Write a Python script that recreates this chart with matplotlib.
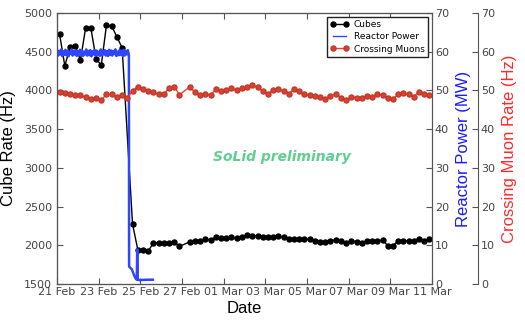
import numpy as np
import matplotlib
matplotlib.use("Agg")
import matplotlib.pyplot as plt
import matplotlib.dates as mdates
from datetime import datetime

# 6-hourly samples starting 21 Feb (slot i -> 0.125 + 0.25*i days)
cube_rate = [4725, 4316, 4561, 4578, 4393, 4810, 4806, 4406, 4328, 4845,
             4832, 4690, 4552, np.nan, 2275, 1945, 1938, 1928, 2025, 2035,
             2030, 2035, 2040, 1985, np.nan, 2045, 2060, 2055, 2077, 2068,
             2105, 2099, 2099, 2103, 2090, 2112, 2129, 2120, 2120, 2112,
             2103, 2112, 2124, 2103, 2086, 2077, 2077, 2077, 2077, 2060,
             2047, 2047, 2060, 2068, 2060, 2030, 2060, 2047, 2035, 2055,
             2060, 2060, 2068, 1995, 1995, 2055, 2055, 2060, 2060, 2085,
             2060, 2085]

muon_rate = [49.7, 49.3, 49.0, 48.7, 48.7, 48.2, 47.8, 48.0, 47.5, 49.0,
             49.0, 48.3, 48.8, 48.1, 49.9, 51.0, 50.4, 49.9, 49.5, 49.0,
             49.0, 50.6, 51.0, 48.9, np.nan, 50.9, 49.5, 48.7, 49.2, 48.7,
             50.4, 49.9, 50.2, 50.6, 50.0, 50.5, 50.9, 51.4, 50.8, 49.8,
             49.1, 50.0, 50.4, 49.8, 49.2, 50.3, 49.9, 49.0, 48.7, 48.5,
             48.2, 47.9, 48.6, 49.2, 48.1, 47.5, 48.4, 48.1, 48.1, 48.6,
             48.4, 49.0, 48.8, 48.1, 47.8, 49.0, 49.3, 49.0, 48.4, 49.7,
             49.0, 48.8]

# reactor power, sampled every 0.05 day while on, then the shutdown tail
power_on = [60.4, 59.0, 60.2, 59.3, 60.6, 58.9, 60.1, 59.2, 60.5, 59.1,
            60.3, 58.8, 60.0, 59.4, 60.6, 59.0, 60.2, 59.3, 60.4, 58.9,
            60.1, 59.1, 60.5, 59.2, 60.3, 58.9, 60.0, 59.3, 60.6, 59.0,
            60.2, 59.1, 60.4, 58.8, 60.1, 59.3, 60.5, 59.0, 60.3, 59.2,
            60.0, 58.9, 60.6, 59.1, 60.2, 59.3, 60.4, 59.0, 60.1, 58.9,
            60.5, 59.2, 60.3, 59.0, 60.2, 59.4, 60.6, 58.9, 60.0, 59.1,
            60.4, 59.2, 60.3, 58.9, 60.5, 59.0, 60.2, 59.3, 60.4, 59.1]
tail_days = [3.46, 3.59, 3.71, 3.79, 3.83, 3.85, 3.87, 3.95, 4.3, 4.6]
tail_power = [4.5, 3.8, 2.1, 1.3, 1.1, 9.0, 1.2, 1.0, 1.1, 1.1]

start = mdates.date2num(datetime(2018, 2, 21))
end = mdates.date2num(datetime(2018, 3, 11))

slots = start + 0.125 + 0.25 * np.arange(len(cube_rate))
cube = np.array(cube_rate, dtype=float)
muon = np.array(muon_rate, dtype=float)
t_pow = np.concatenate([start + 0.05 * np.arange(len(power_on)), start + np.array(tail_days)])
p_pow = np.concatenate([power_on, tail_power])

tick_col = '#444444'
spine_col = '#555555'

fig = plt.figure(figsize=(5.25, 3.21), dpi=100)
ax = fig.add_axes([0.1086, 0.1153, 0.7143, 0.8442])
ax2 = ax.twinx()
ax3 = ax.twinx()
ax3.spines['right'].set_position(('axes', 1.123))

m = np.isfinite(cube)
l1, = ax.plot(slots[m], cube[m], '-o', color='black', ms=3.6, lw=1, label='Cubes')
l2, = ax2.plot(t_pow, p_pow, '-', color='#2f45ff', lw=1.8, label='Reactor Power')
m = np.isfinite(muon)
l3, = ax3.plot(slots[m], muon[m], '-o', color='#ff3b30', mfc='#dd4030', mec='#c03a2a',
               ms=3.6, lw=1, label='Crossing Muons')

ax.set_xlim(start, end)
ax.set_ylim(1500, 5000)
ax2.set_ylim(0, 70)
ax3.set_ylim(0, 70)

ax.xaxis.set_major_locator(mdates.DayLocator(interval=2))
ax.xaxis.set_major_formatter(mdates.DateFormatter('%d %b'))
ax.set_yticks(np.arange(1500, 5001, 500))
ax2.set_yticks(np.arange(0, 71, 10))
ax3.set_yticks(np.arange(0, 71, 10))

for a in (ax, ax2, ax3):
    a.tick_params(direction='in', labelsize=8, colors=spine_col, labelcolor=tick_col, length=4)
    for s in a.spines.values():
        s.set_color(spine_col)
ax.tick_params(top=True, right=False)
ax.tick_params(axis='x', pad=2)
ax2.tick_params(pad=2)
ax3.tick_params(pad=2)

lab = dict(family='Liberation Sans', fontsize=12)
ax.set_xlabel('Date', labelpad=3, **lab)
ax.set_ylabel('Cube Rate (Hz)', labelpad=6, **lab)
ax2.set_ylabel('Reactor Power (MW)', color='#1a1aff', labelpad=5, **lab)
ax3.set_ylabel('Crossing Muon Rate (Hz)', color='#ff2a2a', labelpad=5, **lab)

ax.text(0.599, 0.467, 'SoLid preliminary', transform=ax.transAxes, ha='center', va='center',
        color='#5fcf8f', fontsize=10, style='italic', fontweight='bold')

leg = ax3.legend([l1, l2, l3], ['Cubes', 'Reactor Power', 'Crossing Muons'], loc='upper right',
                 fontsize=6.5, numpoints=2, fancybox=False, framealpha=1, borderaxespad=0.4,
                 handlelength=2.0, labelspacing=0.35, handletextpad=0.6, borderpad=0.4)
leg.get_frame().set_edgecolor('#222222')
leg.legend_handles[1].set_linewidth(1)

fig.savefig('out.png', dpi=100)
